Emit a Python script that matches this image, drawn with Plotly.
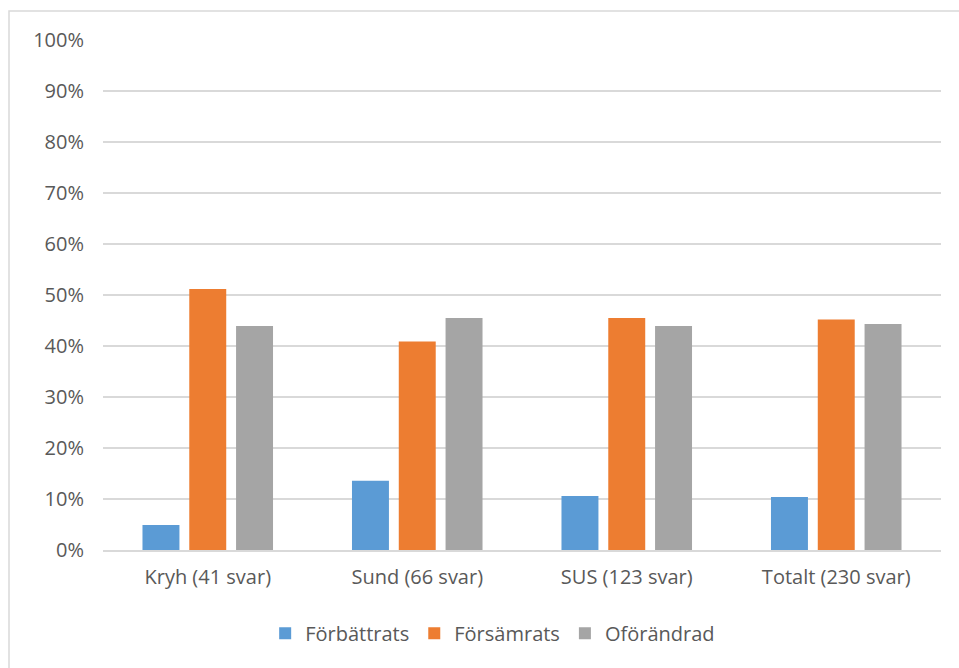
import plotly.graph_objects as go

categories = ["Kryh (41 svar)", "Sund (66 svar)", "SUS (123 svar)", "Totalt (230 svar)"]
forbattrats = [0.049, 0.136, 0.106, 0.104]
forsamrats = [0.512, 0.409, 0.455, 0.452]
oforandrad = [0.439, 0.455, 0.439, 0.443]

series = [
    ("Förbättrats", forbattrats, "#5B9BD5"),
    ("Försämrats", forsamrats, "#ED7D31"),
    ("Oförändrad", oforandrad, "#A5A5A5"),
]

W, H = 959, 668
L, R, T, B = 103, 18, 40, 118
FS = 20

fig = go.Figure()
for name, vals, color in series:
    fig.add_trace(go.Bar(
        x=categories, y=vals, name=name,
        marker=dict(color=color, line=dict(width=0)),
    ))

pw = W - L - R
ph = H - T - B
# outer chart frame (top and left edges visible inside the page)
fig.add_shape(
    type="rect", xref="paper", yref="paper",
    x0=(9 - L) / pw, x1=(W + 5 - L) / pw,
    y0=-(H + 5 - T - ph) / ph, y1=1 + (T - 11) / ph,
    line=dict(color="#D9D9D9", width=1.5), fillcolor="rgba(0,0,0,0)", layer="below",
)

fig.update_layout(
    width=W, height=H,
    margin=dict(l=L, r=R, t=T, b=B),
    paper_bgcolor="white", plot_bgcolor="white",
    font=dict(family="Open Sans, Noto Sans, sans-serif", size=FS, color="#595959"),
    barmode="group", bargap=0.33, bargroupgap=0.21,
    showlegend=True,
    legend=dict(orientation="h", x=0.465, xanchor="center", y=-0.125, yanchor="top",
                font=dict(size=FS, color="#595959"), itemwidth=30,
                traceorder="normal"),
    xaxis=dict(showgrid=False, showline=True, linecolor="#D9D9D9", linewidth=1.5,
               ticks="", ticklabelstandoff=8, tickfont=dict(size=FS, color="#595959")),
    yaxis=dict(range=[0, 1], dtick=0.1, tickformat=".0%", showgrid=True,
               gridcolor="#D9D9D9", gridwidth=1.5, zeroline=False, showline=False,
               ticks="", ticklabelstandoff=18, tickfont=dict(size=FS, color="#595959")),
)

fig.write_html("out.html")
